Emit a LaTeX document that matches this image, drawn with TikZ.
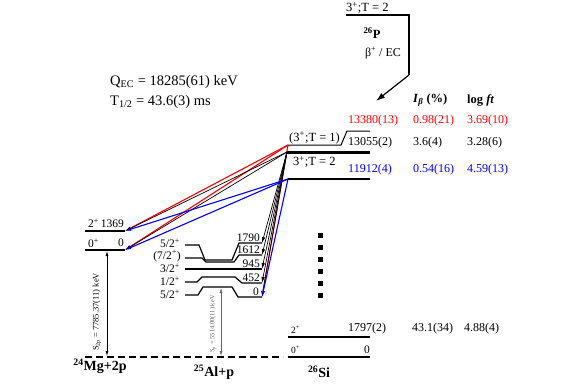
\documentclass[tikz,border=0pt]{standalone}
\usepackage{fontspec}
\setmainfont{Liberation Serif}
\usetikzlibrary{arrows.meta}
\definecolor{trRed}{RGB}{255,0,0}
\definecolor{trBlue}{RGB}{0,0,255}

\begin{document}
\begin{tikzpicture}[
    x=1pt,y=-1pt,
    level/.style={line width=1.2pt},
    thickLevel/.style={line width=3pt},
    trans/.style={-{Latex[length=6pt,width=3.5pt]},line width=0.7pt},
    lbl/.style={inner sep=0pt,font=\fontsize{11.5}{13}\selectfont},
    spinLbl/.style={inner sep=0pt,font=\fontsize{12.5}{14}\selectfont},
    bigLbl/.style={inner sep=0pt,font=\fontsize{12}{14}\selectfont},
    nucName/.style={inner sep=0pt,font=\fontsize{14}{16}\selectfont\bfseries},
    smallLbl/.style={inner sep=0pt,font=\fontsize{8.5}{10}\selectfont},
  ]
  \useasboundingbox (0,0) rectangle (586,388);

  % 26P parent state
  \coordinate (pL) at (346,15);
  \coordinate (pR) at (409,15);
  \coordinate (pK) at (409,75);
  \coordinate (pT) at (376,101);
  \draw[level] (pL) -- (pR) -- (pK);
  \draw[-{Latex[length=9pt,width=6pt]},line width=1.2pt] (pK) -- (pT);
  \node[spinLbl,anchor=base west] (pSpin) at (346,12) {3\textsuperscript{+};T = 2};
  \node[nucName,font=\fontsize{12.5}{14}\selectfont\bfseries] (pName) at (372,33) {\textsuperscript{26}P};
  \node[bigLbl] (pMode) at (383,53) {β\textsuperscript{+} / EC};

  \node[bigLbl,anchor=west,font=\fontsize{14.5}{16}\selectfont] (qec) at (110,82) {Q\textsubscript{EC} = 18285(61) keV};
  \node[bigLbl,anchor=west,font=\fontsize{14.5}{16}\selectfont] (thalf) at (110,102) {T\textsubscript{1/2} = 43.6(3) ms};

  % table header
  \node[nucName,anchor=west,font=\fontsize{12.5}{14}\selectfont\bfseries] (hIb) at (413,100) {\textit{I}\textsubscript{\textit{β}} (\%)};
  \node[nucName,anchor=west,font=\fontsize{12.5}{14}\selectfont\bfseries] (hFt) at (467,100) {log \textit{ft}};

  % 26Si levels
  \coordinate (siA1) at (288,145);
  \coordinate (siA2) at (341,145);
  \coordinate (siA3) at (347,131);
  \coordinate (siA4) at (370,131);
  \draw[level,line width=1pt] (siA1) -- (siA2) -- (siA3) -- (siA4);
  \coordinate (siB1) at (287,152);
  \coordinate (siB2) at (370,152);
  \draw[thickLevel] (siB1) -- (siB2);
  \coordinate (siC1) at (288,179);
  \coordinate (siC2) at (370,179);
  \draw[level] (siC1) -- (siC2);
  \coordinate (siD1) at (288,337);
  \coordinate (siD2) at (370,337);
  \draw[level] (siD1) -- (siD2);
  \coordinate (siE1) at (288,357);
  \coordinate (siE2) at (370,357);
  \draw[level,line width=1.5pt] (siE1) -- (siE2);

  \node[spinLbl,anchor=west] (siAspin) at (289,138) {(3\textsuperscript{+};T = 1)};
  \node[spinLbl,anchor=west] (siBspin) at (293,162) {3\textsuperscript{+};T = 2};
  \node[lbl,anchor=west] (siDspin) at (291,330) {\fontsize{9.5}{10}\selectfont 2\textsuperscript{+}};
  \node[lbl,anchor=west] (siEspin) at (291,350) {\fontsize{9.5}{10}\selectfont 0\textsuperscript{+}};
  \node[lbl,anchor=east] (siEen) at (370,350) {0};

  % energies, intensities and log ft
  \node[bigLbl,anchor=west,text=trRed] (siAen) at (348,121) {13380(13)};
  \node[bigLbl,anchor=west,text=trRed] (siAib) at (413,121) {0.98(21)};
  \node[bigLbl,anchor=west,text=trRed] (siAft) at (467,121) {3.69(10)};
  \node[bigLbl,anchor=west] (siBen) at (348,143) {13055(2)};
  \node[bigLbl,anchor=west] (siBib) at (413,143) {3.6(4)};
  \node[bigLbl,anchor=west] (siBft) at (467,143) {3.28(6)};
  \node[bigLbl,anchor=west,text=trBlue] (siCen) at (348,170) {11912(4)};
  \node[bigLbl,anchor=west,text=trBlue] (siCib) at (413,170) {0.54(16)};
  \node[bigLbl,anchor=west,text=trBlue] (siCft) at (467,170) {4.59(13)};
  \node[bigLbl,anchor=west] (siDen) at (348,329) {1797(2)};
  \node[bigLbl,anchor=west] (siDib) at (412,329) {43.1(34)};
  \node[bigLbl,anchor=west] (siDft) at (464,329) {4.88(4)};

  % more levels in between
  \foreach \k in {0,...,5}
    \fill (318,233+12*\k) rectangle ++(4.5,4.5);

  % 24Mg levels
  \coordinate (mgA1) at (85,231);
  \coordinate (mgA2) at (125,231);
  \coordinate (mgB1) at (85,250);
  \coordinate (mgB2) at (125,250);
  \draw[level] (mgA1) -- (mgA2);
  \draw[level,line width=1.8pt] (mgB1) -- (mgB2);
  \node[lbl,anchor=west] (mgAspin) at (88,223) {2\textsuperscript{+}};
  \node[lbl,anchor=east] (mgAen) at (124,224) {1369};
  \node[lbl,anchor=west] (mgBspin) at (88,243) {0\textsuperscript{+}};
  \node[lbl,anchor=east] (mgBen) at (124,243) {0};

  % 25Al levels
  \coordinate (alA) at (262,243);
  \coordinate (alB) at (262,255);
  \coordinate (alC) at (262,269);
  \coordinate (alD) at (262,283);
  \coordinate (alE) at (262,297);
  \draw[level] (185,245) -- (199,245) -- (205,260) -- (232,260) -- (239,243) -- (alA);
  \draw[level] (185,258) -- (202,258) -- (206,262) -- (234,262) -- (239,255) -- (alB);
  \draw[level] (185,269) -- (alC);
  \draw[level] (185,282) -- (197,282) -- (202,277) -- (235,277) -- (242,283) -- (alD);
  \draw[level] (185,295) -- (198,295) -- (203,287) -- (232,287) -- (238,297) -- (alE);
  \node[lbl,anchor=east] (alAspin) at (180,243) {5/2\textsuperscript{+}};
  \node[lbl,anchor=east] (alBspin) at (181,256) {(7/2\textsuperscript{+})};
  \node[lbl,anchor=east] (alCspin) at (180,268) {3/2\textsuperscript{+}};
  \node[lbl,anchor=east] (alDspin) at (180,281) {1/2\textsuperscript{+}};
  \node[lbl,anchor=east] (alEspin) at (180,294) {5/2\textsuperscript{+}};
  \node[lbl,anchor=south east] (alAen) at (260,242) {1790};
  \node[lbl,anchor=south east] (alBen) at (260,254) {1612};
  \node[lbl,anchor=south east] (alCen) at (260,268) {945};
  \node[lbl,anchor=south east] (alDen) at (260,282) {452};
  \node[lbl,anchor=south east] (alEen) at (259,296) {0};

  % proton thresholds
  \coordinate (thrL) at (85,357);
  \coordinate (thrR) at (283,357);
  \draw[line width=1.2pt,dash pattern=on 7pt off 4pt] (thrL) -- (thrR);
  \draw[{Latex[length=5pt,width=3pt]}-{Latex[length=5pt,width=3pt]},line width=0.7pt]
    (107,251) coordinate (s2pTop) -- (107,356) coordinate (s2pBot);
  \node[smallLbl,rotate=90] (s2pLbl) at (97,312) {S\textsubscript{2p} = 7785.37(11) keV};
  \draw[{Latex[length=5pt,width=3pt]}-{Latex[length=5pt,width=3pt]},line width=0.6pt,black!60]
    (221,288) coordinate (spTop) -- (221,356) coordinate (spBot);
  \node[smallLbl,rotate=90,text=black!60,font=\fontsize{6.5}{7}\selectfont] (spLbl) at (213,324) {S\textsubscript{p} = 5514.00(11) keV};

  \node[nucName] (mgName) at (100,366) {\textsuperscript{24}Mg+2p};
  \node[nucName] (alName) at (214,372) {\textsuperscript{25}Al+p};
  \node[nucName] (siName) at (319,372) {\textsuperscript{26}Si};

  % proton emission
  \draw[trans,trRed,line width=1.1pt] (siA1) -- (mgA2);
  \draw[trans,trRed,line width=1.1pt] (siA1) -- (mgB2);
  \draw[trans,trRed,line width=1.1pt] (siA1) -- (alE);
  \draw[trans] (siB1) -- (mgA2);
  \draw[trans] (siB1) -- (mgB2);
  \draw[trans] (siB1) -- (alA);
  \draw[trans] (siB1) -- (alB);
  \draw[trans] (siB1) -- (alC);
  \draw[trans] (siB1) -- (alD);
  \draw[trans] (siB1) -- (alE);
  \draw[trans,trBlue,line width=1.1pt] (siC1) -- (mgA2);
  \draw[trans,trBlue,line width=1.1pt] (siC1) -- (mgB2);
  \draw[trans,trBlue,line width=1.1pt] (siC1) -- (alE);
\end{tikzpicture}
\end{document}
